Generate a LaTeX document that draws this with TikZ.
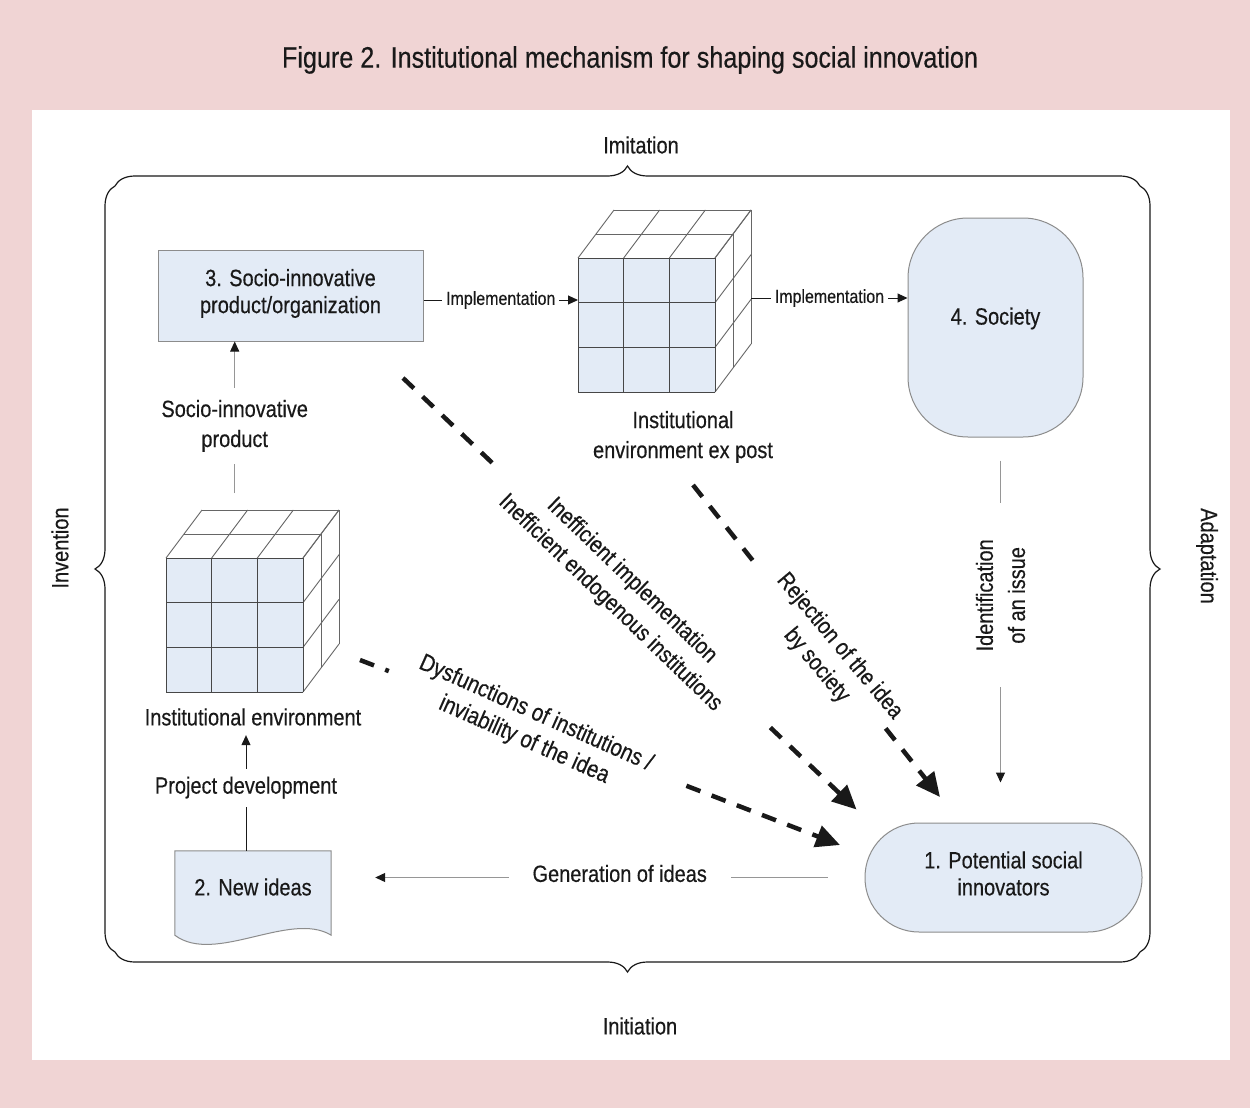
\documentclass[tikz,border=0pt]{standalone}
\usepackage{fontspec}
\setmainfont{Liberation Sans}[FakeStretch=0.85, FakeBold=0.4]
\usetikzlibrary{arrows.meta,decorations.pathreplacing,calc}

\definecolor{pinkbg}{RGB}{240,212,212}
\definecolor{boxfill}{RGB}{227,235,246}
\definecolor{boxline}{RGB}{140,140,140}
\definecolor{connline}{RGB}{150,150,150}
\definecolor{inkc}{RGB}{25,25,25}

\tikzset{
  body/.style={font=\fontsize{23.5}{30}\selectfont, text=inkc, align=center},
  nodetxt/.style={font=\fontsize{23.5}{27}\selectfont, text=inkc, align=center},
  smalltxt/.style={font=\fontsize{18.8}{22}\selectfont, text=inkc},
  shapebox/.style={draw=boxline, fill=boxfill, line width=1pt},
  thinconn/.style={draw=connline, line width=1pt},
  darkconn/.style={draw=inkc, line width=1pt},
  tip/.style={-{Triangle[length=10pt,width=9pt,color=inkc]}},
  bigdash/.style={draw=inkc, line width=4.5pt, dash pattern=on 15pt off 12pt},
  bigtip/.style={-{Triangle[length=24pt,width=22pt]}},
  bracestyle/.style={decorate, decoration={brace, amplitude=20pt}, draw=inkc, line width=1.2pt},
  cubeback/.style={draw=black!60, line width=0.9pt},
  cubefront/.style={draw=black!72, line width=1pt},
  gridcube/.pic={
    \fill[boxfill] (0,0) rectangle (137,134);
    \foreach \i in {0,1,2,3} {
      \draw[cubeback] (\i*45.667,0) -- ++(36,-48);
      \draw[cubeback] (137,\i*44.667) -- ++(36,-48);
    }
    \foreach \j in {0,1,2} {
      \draw[cubeback] (\j*18,-\j*24) -- ++(137,0);
      \draw[cubeback] (137+\j*18,-\j*24) -- ++(0,134);
    }
    \foreach \i in {0,1,2,3} {
      \draw[cubefront] (\i*45.667,0) -- ++(0,134);
      \draw[cubefront] (0,\i*44.667) -- ++(137,0);
    }
  }
}

\begin{document}
\begin{tikzpicture}[x=1pt,y=-1pt]
\useasboundingbox (0,0) rectangle (1250,1108);
\fill[pinkbg] (0,0) rectangle (1250,1108);
\fill[white] (32,110) rectangle (1230,1060);

% title
\node[font=\fontsize{29.6}{34}\selectfont, text=inkc] (title) at (630,60)
  {Figure 2. Institutional mechanism for shaping social innovation};

% surrounding braces
\coordinate (TL) at (115,186);
\coordinate (TR) at (1140,186);
\coordinate (BR) at (1140,952);
\coordinate (BL) at (115,952);
\draw[bracestyle] (TL) -- (TR);
\draw[bracestyle] (TR) -- (BR);
\draw[bracestyle] (BR) -- (BL);
\draw[bracestyle] (BL) -- (TL);
\node[body] (imit) at (641,145) {Imitation};
\node[body] (initi) at (640,1026) {Initiation};
\node[body, rotate=90] (inven) at (60,548) {Invention};
\node[body, rotate=-90] (adapt) at (1207,556) {Adaptation};

% main elements
\node[shapebox, minimum width=265pt, minimum height=91pt] (box3) at (290.5,295.5) {};
\node[nodetxt] (box3txt) at ($(box3.center)+(0,-2)$) {3. Socio-innovative\\product/organization};
\node[shapebox, rounded corners=60pt, minimum width=175pt, minimum height=219pt] (society) at (995.5,327.5) {};
\node[nodetxt] (societytxt) at ($(society.center)+(0,-9)$) {4. Society};
\node[shapebox, rounded corners=54pt, minimum width=277pt, minimum height=109pt] (innov) at (1003.5,877.5) {};
\node[nodetxt] (innovtxt) at ($(innov.center)+(0,-4)$) {1. Potential social\\innovators};

% document shape
\node[minimum width=156pt, minimum height=84pt, inner sep=0pt] (newideas) at (253,893) {};
\filldraw[shapebox] (newideas.south west) .. controls +(40,30) and +(-41,-25) .. (newideas.south east)
  -- (newideas.north east) -- (newideas.north west) -- cycle;
\node[nodetxt] (newideastxt) at ($(newideas.center)+(0,-6)$) {2. New ideas};

% cubes of institutions
\pic at (166,558) {gridcube};
\node[inner sep=0pt, minimum width=137pt, minimum height=134pt, anchor=north west] (cubeAf) at (166,558) {};
\node[inner sep=0pt, minimum width=173pt, minimum height=182pt, anchor=south west] (cubeA) at (166,692) {};
\node[body] (envlabel) at (253,717) {Institutional environment};

\pic at (578,258) {gridcube};
\node[inner sep=0pt, minimum width=137pt, minimum height=134pt, anchor=north west] (cubeBf) at (578,258) {};
\node[inner sep=0pt, minimum width=173pt, minimum height=182pt, anchor=south west] (cubeB) at (578,392) {};
\node[body] (expost) at (683,437) {Institutional\\environment ex post};

% solid connectors
\draw[darkconn, tip] (box3.east |- 0,300) -- (cubeBf.west |- 0,300)
  node[midway, smalltxt, fill=white, inner xsep=4pt] {Implementation};
\draw[darkconn, tip] (cubeB.east |- 0,298) -- (society.west |- 0,298)
  node[midway, smalltxt, fill=white, inner xsep=4pt] {Implementation};
\draw[thinconn, tip, shorten <=65pt] (cubeAf.north) -- (cubeAf.north |- box3.south)
  node[pos=0.61, body, fill=white, inner ysep=12pt] {Socio-innovative\\product};
\draw[darkconn, tip, shorten >=6pt] ([xshift=-7pt]newideas.north) -- ([xshift=-7pt]newideas.north |- envlabel.south)
  node[pos=0.52, body, fill=white, inner ysep=8pt] {Project development};
\draw[thinconn, tip, shorten <=37pt, shorten >=44pt] (innov.west) -- (innov.west -| newideas.east)
  node[pos=0.459, body, fill=white, inner xsep=24pt, yshift=4pt] {Generation of ideas};
\draw[thinconn, tip, shorten <=23pt, shorten >=40pt] ([xshift=5pt]society.south) -- ([xshift=5pt]society.south |- innov.north)
  node[pos=0.41, body, fill=white, rotate=90, inner xsep=36pt, font=\fontsize{23.5}{32}\selectfont] {Identification\\of an issue};

% dashed failure arrows
\coordinate (d1s) at (403,378);
\coordinate (d1e) at ($(innov.north west)+(-8,-13)$);
\path (d1s) -- (d1e) coordinate[pos=0.21] (d1a) coordinate[pos=0.81] (d1b);
\draw[bigdash] (d1s) -- (d1a);
\draw[bigdash, bigtip] (d1b) -- (d1e);
\node[body, rotate=-44, font=\fontsize{23.5}{31}\selectfont] (ineff) at (621,592)
  {Inefficient implementation\\Inefficient endogenous institutions};

\coordinate (d2s) at (693,485);
\coordinate (d2e) at (940,797);
\path (d2s) -- (d2e) coordinate[pos=0.27] (d2a) coordinate[pos=0.78] (d2b);
\draw[bigdash] (d2s) -- (d2a);
\draw[bigdash, bigtip] (d2b) -- (d2e);
\node[body, rotate=-50] (reject) at (828,656) {Rejection of the idea\\by society};

\coordinate (d3s) at (360,660);
\coordinate (d3e) at (840,845);
\path (d3s) -- (d3e) coordinate[pos=0.06] (d3a) coordinate[pos=0.68] (d3b);
\draw[bigdash] (d3s) -- (d3a);
\draw[bigdash, bigtip] (d3b) -- (d3e);
\node[body, rotate=-24, font=\fontsize{24}{29}\selectfont] (dysf) at (530,727)
  {Dysfunctions of institutions /\\inviability of the idea};
\end{tikzpicture}
\end{document}
